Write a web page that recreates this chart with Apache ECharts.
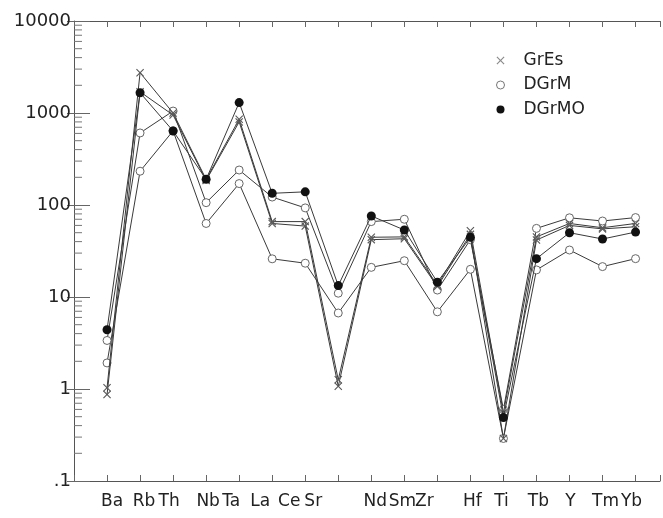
<!DOCTYPE html>
<html><head><meta charset="utf-8">
<script src="https://cdn.jsdelivr.net/npm/echarts@6/dist/echarts.min.js"></script>
<style>html,body{margin:0;padding:0;background:#fff}#c{width:663px;height:518px}</style>
</head><body><div id="c"></div>
<script>
// ---- data ----
const elements = ['Ba','Rb','Th','Nb','Ta','La','Ce','Sr','Nd','Sm','Zr','Hf','Ti','Tb','Y','Tm','Yb'];
const grEs1 = [1.03, 2740, 1000, 190, 855, 66, 66, 1.26, 44.6, 45, 13.5, 52.5, 0.55, 45, 63, 56.6, 63];
const grEs2 = [0.87, 1700, 950, 185, 800, 63, 59, 1.07, 42, 43, 13, 48, 0.29, 41.6, 60, 55, 58];
const dGrM1 = [3.37, 607, 1050, 106, 240, 122, 93, 11, 66, 70, 11.9, 42, 0.6, 55.7, 72.6, 67, 73];
const dGrM2 = [1.92, 233, 640, 63, 171, 26, 23.3, 6.7, 21, 24.8, 6.9, 20, 0.29, 19.7, 32.4, 21.4, 26.1];
const dGrMO = [4.4, 1660, 638, 190, 1297, 134, 139, 13.3, 76, 53.5, 14.5, 44.6, 0.49, 26.1, 50, 42.7, 50.8];
const yTickValues = [0.1, 1, 10, 100, 1000, 10000];
const yTickLabels = ['.1', '1', '10', '100', '1000', '10000'];
const minorTickValues = [0.2,0.3,0.4,0.5,0.6,0.7,0.8,0.9, 2,3,4,5,6,7,8,9, 20,30,40,50,60,70,80,90,
  200,300,400,500,600,700,800,900, 2000,3000,4000,5000,6000,7000,8000,9000];

// ---- styles ----
const labelShift = [5, 4, -4, 2, -8, -12, -16, -25, 4, -2, -13, 2, -2, 2, 1, 3, -4];
const FONT = 'DejaVu Sans';
const FS = 17;
const xPath = 'path://M0,1L1,0L5,4L9,0L10,1L6,5L10,9L9,10L5,6L1,10L0,9L4,5Z';
const xMax = 17.74;

const rich = {};
labelShift.forEach((s, i) => {
  rich['l' + i] = {
    fontSize: FS, fontFamily: FONT, color: '#222',
    padding: s >= 0 ? [0, 0, 0, 2 * s] : [0, -2 * s, 0, 0]
  };
});

function mk(name, vals, symbol, size, itemStyle, z) {
  return {
    type: 'line', name: name, z: z,
    data: vals.map((v, i) => [i + 1, v]),
    symbol: symbol, symbolSize: size, showAllSymbol: true,
    lineStyle: { color: '#3a3a3a', width: 1 },
    itemStyle: itemStyle,
    emphasis: { disabled: true },
    animation: false
  };
}

const chart = echarts.init(document.getElementById('c'), null, { renderer: 'canvas' });
chart.setOption({
  backgroundColor: '#fff',
  animation: false,
  grid: { left: 74, right: 0, top: 21, bottom: 37 },
  legend: {
    orient: 'vertical', left: 496, top: 52, padding: 0,
    itemWidth: 8, itemHeight: 8, itemGap: 7.5,
    textStyle: { fontFamily: FONT, fontSize: FS, color: '#222', lineHeight: 17, padding: [0, 0, 0, 14] },
    selectedMode: false,
    data: [
      { name: 'GrEs', icon: xPath, itemStyle: { color: '#8a8a8a', borderWidth: 0 } },
      { name: 'DGrM', icon: 'circle', itemStyle: { color: '#fff', borderColor: '#777', borderWidth: 1 } },
      { name: 'DGrMO', icon: 'circle', itemStyle: { color: '#111', borderWidth: 0 } }
    ]
  },
  xAxis: [
    {
      type: 'value', min: 0, max: xMax, interval: 1, position: 'bottom',
      axisLine: { show: true, lineStyle: { color: '#555', width: 1 } },
      axisTick: { show: true, inside: true, length: 6, lineStyle: { color: '#666' } },
      splitLine: { show: false },
      axisLabel: {
        margin: 12, fontFamily: FONT, fontSize: FS, color: '#222',
        formatter: function (v) {
          const i = Math.round(v) - 1;
          if (Math.abs(v - Math.round(v)) > 1e-6 || i < 0 || i >= elements.length) return '';
          return '{l' + i + '|' + elements[i] + '}';
        },
        rich: rich
      }
    },
    {
      type: 'value', min: 0, max: xMax, interval: 1, position: 'top',
      axisLine: { show: true, lineStyle: { color: '#555', width: 1 } },
      axisTick: { show: true, inside: true, length: 6, lineStyle: { color: '#666' } },
      splitLine: { show: false },
      axisLabel: { show: false }
    }
  ],
  yAxis: [
    {
      type: 'log', logBase: 10, min: 0.1, max: 10000, position: 'left',
      axisLine: { show: true, lineStyle: { color: '#555', width: 1 } },
      axisTick: { show: true, inside: true, length: 16, lineStyle: { color: '#666' } },
      splitLine: { show: false },
      axisLabel: {
        margin: 3, fontFamily: FONT, fontSize: 18, color: '#222',
        formatter: function (v) {
          const idx = Math.round(Math.log10(v)) + 1;
          return yTickLabels[idx] !== undefined ? yTickLabels[idx] : '';
        }
      }
    },
    {
      type: 'log', logBase: 10, min: 0.1, max: 10000, position: 'right',
      axisLine: { show: false },
      axisTick: { show: true, inside: true, length: 7, lineStyle: { color: '#666' } },
      splitLine: { show: false },
      axisLabel: { show: false }
    }
  ],
  series: [
    {
      type: 'custom', silent: true, clip: false, xAxisIndex: 0, yAxisIndex: 0, z: 1,
      data: minorTickValues.map(v => [0, v]),
      renderItem: function (params, api) {
        const p = api.coord([api.value(0), api.value(1)]);
        return { type: 'line', shape: { x1: p[0], y1: p[1], x2: p[0] + 8, y2: p[1] },
                 style: { stroke: '#777', lineWidth: 1 } };
      }
    },
    mk('DGrM', dGrM2, 'circle', 8, { color: '#fff', borderColor: '#666', borderWidth: 1 }, 3),
    mk('DGrM', dGrM1, 'circle', 8, { color: '#fff', borderColor: '#666', borderWidth: 1 }, 3),
    mk('GrEs', grEs2, xPath, 8, { color: '#5a5a5a', borderWidth: 0 }, 4),
    mk('GrEs', grEs1, xPath, 8, { color: '#5a5a5a', borderWidth: 0 }, 4),
    mk('DGrMO', dGrMO, 'circle', 9, { color: '#111', borderWidth: 0 }, 5)
  ]
});
</script>
</body></html>
